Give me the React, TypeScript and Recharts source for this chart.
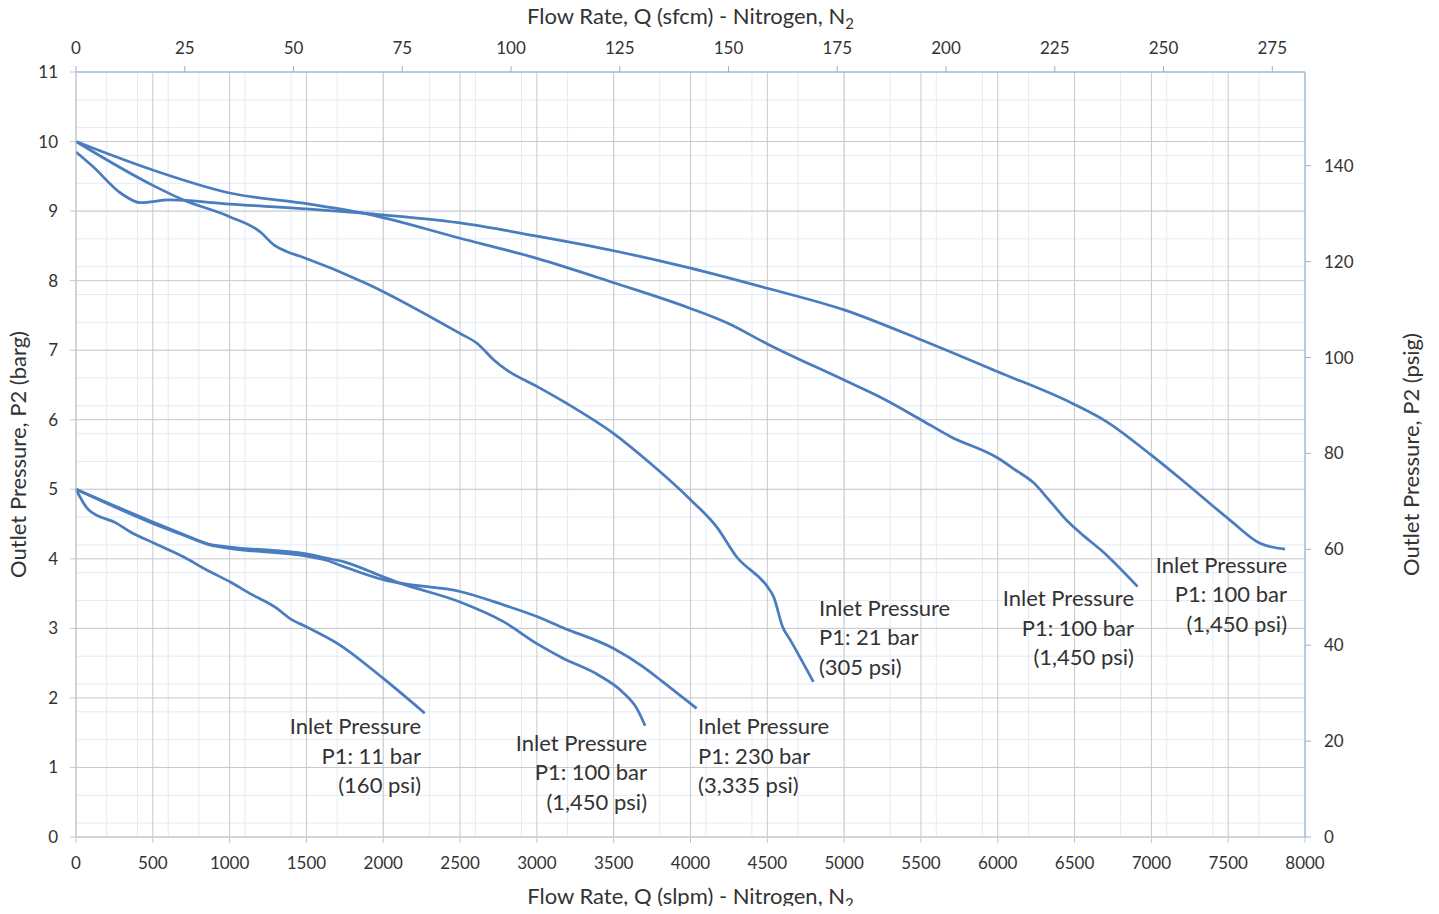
import React from "react";
import { CartesianGrid, Line, LineChart, ReferenceDot, XAxis, YAxis } from "recharts";

const SLPM_PER_SCFM = 28.3168;
const PSI_PER_BAR = 14.5038;

const flowTicks = [0, 500, 1000, 1500, 2000, 2500, 3000, 3500, 4000, 4500, 5000, 5500, 6000, 6500, 7000, 7500, 8000];
const sfcmTicks = [0, 25, 50, 75, 100, 125, 150, 175, 200, 225, 250, 275];
const bargTicks = [0, 1, 2, 3, 4, 5, 6, 7, 8, 9, 10, 11];
const psigTicks = [0, 20, 40, 60, 80, 100, 120, 140];
const minorFlow = Array.from({ length: 81 }, (_, i) => i * 100);
const minorBarg = Array.from({ length: 56 }, (_, i) => +(i * 0.2).toFixed(1));

// P1 11 bar (160 psi)
const q11 = [0, 80, 265, 352, 503, 698, 851, 1002, 1133, 1306, 1393, 1502, 1718, 2000, 2270];
const p11 = [5.0, 4.71, 4.51, 4.39, 4.23, 4.03, 3.84, 3.67, 3.5, 3.29, 3.14, 3.02, 2.76, 2.28, 1.78];

// P1 100 bar (1,450 psi), lower family
const q100a = [0, 500, 700, 870, 1000, 1500, 1630, 1740, 2000, 2110, 2500, 2780, 3000, 3170, 3400, 3550, 3650, 3705];
const p100a = [5.0, 4.53, 4.35, 4.21, 4.17, 4.07, 4.01, 3.96, 3.74, 3.65, 3.38, 3.1, 2.78, 2.57, 2.33, 2.1, 1.85, 1.6];

// P1 230 bar (3,335 psi)
const q230 = [0, 500, 700, 870, 1000, 1500, 1630, 1740, 2000, 2110, 2500, 2780, 3000, 3170, 3500, 3690, 3820, 4040];
const p230 = [5.0, 4.51, 4.34, 4.2, 4.15, 4.04, 3.98, 3.89, 3.7, 3.65, 3.53, 3.34, 3.17, 3.01, 2.71, 2.45, 2.23, 1.85];

// P1 21 bar (305 psi)
const q21 = [0, 500, 700, 1000, 1200, 1290, 1370, 1460, 1890, 2500, 2610, 2720, 2800, 3000, 3190, 3500, 3740, 4000, 4170, 4300, 4500, 4540, 4600, 4650, 4800];
const p21 = [10.0, 9.37, 9.16, 8.92, 8.7, 8.51, 8.42, 8.35, 7.96, 7.24, 7.1, 6.86, 6.72, 6.48, 6.24, 5.8, 5.37, 4.85, 4.46, 4.03, 3.6, 3.46, 3.02, 2.83, 2.23];

// P1 100 bar (1,450 psi), middle
const q100b = [0, 500, 1000, 1520, 1870, 2500, 3000, 3500, 4000, 4240, 4500, 5000, 5230, 5500, 5690, 6000, 6120, 6230, 6340, 6450, 6560, 6670, 6910];
const p100b = [10.0, 9.59, 9.26, 9.1, 8.97, 8.61, 8.32, 7.97, 7.6, 7.39, 7.09, 6.57, 6.33, 6.0, 5.76, 5.45, 5.27, 5.1, 4.83, 4.55, 4.33, 4.13, 3.6];

// P1 100 bar (1,450 psi), right
const q100c = [0, 110, 290, 420, 610, 1000, 1520, 1870, 2500, 3000, 3500, 4000, 4500, 5000, 5500, 6000, 6490, 6710, 7000, 7250, 7510, 7710, 7870];
const p100c = [9.85, 9.64, 9.26, 9.12, 9.16, 9.1, 9.03, 8.97, 8.83, 8.64, 8.43, 8.18, 7.89, 7.58, 7.15, 6.69, 6.23, 5.97, 5.49, 5.04, 4.56, 4.22, 4.14];

const curves = [
  { id: "p11", q: q11, p: p11 },
  { id: "p100a", q: q100a, p: p100a },
  { id: "p230", q: q230, p: p230 },
  { id: "p21", q: q21, p: p21 },
  { id: "p100b", q: q100b, p: p100b },
  { id: "p100c", q: q100c, p: p100c },
];

const notes = [
  { q: 2246, p: 1.48, anchor: "end", lines: ["Inlet Pressure", "P1: 11 bar", "(160 psi)"] },
  { q: 3717, p: 1.24, anchor: "end", lines: ["Inlet Pressure", "P1: 100 bar", "(1,450 psi)"] },
  { q: 4049, p: 1.48, anchor: "start", lines: ["Inlet Pressure", "P1: 230 bar", "(3,335 psi)"] },
  { q: 4836, p: 3.18, anchor: "start", lines: ["Inlet Pressure", "P1: 21 bar", "(305 psi)"] },
  { q: 6887, p: 3.32, anchor: "end", lines: ["Inlet Pressure", "P1: 100 bar", "(1,450 psi)"] },
  { q: 7883, p: 3.8, anchor: "end", lines: ["Inlet Pressure", "P1: 100 bar", "(1,450 psi)"] },
];

// invisible series so the helper axes get a domain
const ghostMinor = [{ q: 0, p: 0 }, { q: 8000, p: 11 }];
const ghostTop = [{ q: 0, p: 0 }, { q: 8000 / SLPM_PER_SCFM, p: 0 }];

const FONT = "Lato, 'Open Sans', sans-serif";
const TEXT = "#333333";
const LINE = "#4a7dbf";
const GRID = "#c8c8c8";
const MINOR = "#e3ebf6";
const BLUE_AXIS = "#8eb4e3";

const tick = { fontSize: 17, fill: TEXT, fontFamily: FONT };
const titleStyle = { fontSize: 22, fill: TEXT, fontFamily: FONT };

const topTitle = ({ viewBox }: any) => (
  <text x={viewBox.x + viewBox.width / 2} y={viewBox.y + 24} textAnchor="middle" {...titleStyle}>
    Flow Rate, Q (sfcm) - Nitrogen, N<tspan dy={5} fontSize={15}>2</tspan>
  </text>
);

const bottomTitle = ({ viewBox }: any) => (
  <text x={viewBox.x + viewBox.width / 2} y={viewBox.y + 67} textAnchor="middle" {...titleStyle}>
    Flow Rate, Q (slpm) - Nitrogen, N<tspan dy={5} fontSize={15}>2</tspan>
  </text>
);

const leftTitle = ({ viewBox }: any) => {
  const x = viewBox.x + 26;
  const y = viewBox.y + viewBox.height / 2;
  return (
    <text x={x} y={y} textAnchor="middle" transform={`rotate(-90 ${x} ${y})`} {...titleStyle}>
      Outlet Pressure, P2 (barg)
    </text>
  );
};

const rightTitle = ({ viewBox }: any) => {
  const x = viewBox.x + 114;
  const y = viewBox.y + viewBox.height / 2;
  return (
    <text x={x} y={y} textAnchor="middle" transform={`rotate(-90 ${x} ${y})`} {...titleStyle}>
      Outlet Pressure, P2 (psig)
    </text>
  );
};

const noteShape = (lines: string[], anchor: string) => (props: any) => (
  <text x={props.cx} y={props.cy} textAnchor={anchor as any} {...titleStyle}>
    {lines.map((l, i) => (
      <tspan key={i} x={props.cx} dy={i === 0 ? 0 : 29.5}>
        {l}
      </tspan>
    ))}
  </text>
);

export default function App() {
  return (
    <div style={{ margin: -8 }}>
      <LineChart width={1439} height={914} margin={{ top: 0, right: 0, bottom: 0, left: 0 }} style={{ fontFamily: FONT }}>
        <XAxis xAxisId="xm" dataKey="q" type="number" domain={[0, 8000]} ticks={minorFlow} hide />
        <YAxis yAxisId="ym" type="number" domain={[0, 11]} ticks={minorBarg} hide />
        <CartesianGrid xAxisId="xm" yAxisId="ym" stroke={MINOR} strokeWidth={1} />
        <CartesianGrid xAxisId="x" yAxisId="y" stroke={GRID} strokeWidth={1} />
        <XAxis
          xAxisId="x"
          dataKey="q"
          type="number"
          domain={[0, 8000]}
          ticks={flowTicks}
          interval={0}
          height={77}
          tick={tick}
          tickSize={6}
          tickMargin={14}
          axisLine={{ stroke: GRID }}
          tickLine={{ stroke: GRID }}
          label={{ content: bottomTitle }}
        />
        <XAxis
          xAxisId="xt"
          dataKey="q"
          orientation="top"
          type="number"
          domain={[0, 8000 / SLPM_PER_SCFM]}
          allowDataOverflow
          ticks={sfcmTicks}
          interval={0}
          height={72}
          tick={tick}
          tickSize={6}
          tickMargin={12}
          axisLine={{ stroke: BLUE_AXIS }}
          tickLine={{ stroke: BLUE_AXIS }}
          label={{ content: topTitle }}
        />
        <YAxis
          yAxisId="y"
          type="number"
          domain={[0, 11]}
          ticks={bargTicks}
          interval={0}
          width={76}
          tick={tick}
          tickSize={6}
          tickMargin={12}
          axisLine={{ stroke: GRID }}
          tickLine={{ stroke: GRID }}
          label={{ content: leftTitle }}
        />
        <YAxis
          yAxisId="yr"
          orientation="right"
          type="number"
          domain={[0, 11 * PSI_PER_BAR]}
          allowDataOverflow
          ticks={psigTicks}
          interval={0}
          width={134}
          tick={tick}
          tickSize={6}
          tickMargin={13}
          axisLine={{ stroke: BLUE_AXIS }}
          tickLine={{ stroke: BLUE_AXIS }}
          label={{ content: rightTitle }}
        />
        <Line
          xAxisId="xm"
          yAxisId="ym"
          data={ghostMinor}
          dataKey="p"
          stroke="none"
          dot={false}
          activeDot={false}
          isAnimationActive={false}
        />
        <Line
          xAxisId="xt"
          yAxisId="y"
          data={ghostTop}
          dataKey="p"
          stroke="none"
          dot={false}
          activeDot={false}
          isAnimationActive={false}
        />
        {curves.map((c) => (
          <Line
            key={c.id}
            xAxisId="x"
            yAxisId="y"
            data={c.q.map((q, i) => ({ q, p: c.p[i] }))}
            dataKey="p"
            type="monotone"
            stroke={LINE}
            strokeWidth={2.75}
            dot={false}
            activeDot={false}
            isAnimationActive={false}
          />
        ))}
        {notes.map((n, i) => (
          <ReferenceDot
            key={i}
            xAxisId="x"
            yAxisId="y"
            x={n.q}
            y={n.p}
            r={0}
            ifOverflow="visible"
            shape={noteShape(n.lines, n.anchor)}
          />
        ))}
      </LineChart>
    </div>
  );
}
